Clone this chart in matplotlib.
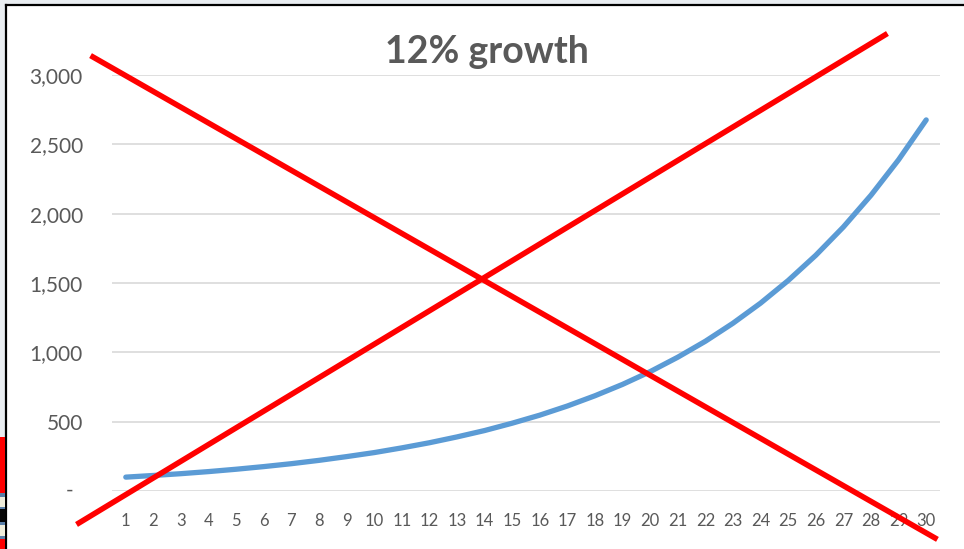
import matplotlib.pyplot as plt
from matplotlib.patches import Rectangle
from matplotlib.lines import Line2D
import matplotlib.transforms as mtransforms

# === data ===
years = list(range(1, 31))
value = [100, 112, 125, 140, 157, 176, 197, 221, 248, 277,
         311, 348, 390, 436, 489, 547, 613, 687, 769, 861,
         965, 1080, 1210, 1355, 1518, 1700, 1904, 2133, 2389, 2676]
y_ticks = [0, 500, 1000, 1500, 2000, 2500, 3000]
y_labels = ["", "500", "1,000", "1,500", "2,000", "2,500", "3,000"]

# red "X" drawn over the chart (data coordinates)
cross1_x = [-0.19, 30.32]
cross1_y = [3130, -339]
cross2_x = [-0.70, 28.51]
cross2_y = [-231, 3289]

plt.rcParams['font.family'] = ['Lato', 'DejaVu Sans']
txt = '#595959'

fig = plt.figure(figsize=(9.64, 5.49), dpi=100)
fig.patch.set_facecolor('#E9EDF1')
W, H = 964, 549

# white chart area with black frame on left/top (screenshot edge)
fig.patches.append(Rectangle((7 / W, 0), 1, (H - 6) / H, transform=fig.transFigure,
                             facecolor='white', edgecolor='none', zorder=-5))
fig.add_artist(Line2D([6 / W, 6 / W], [0, (H - 5) / H], transform=fig.transFigure,
                      color='black', lw=1.6, zorder=-4))
fig.add_artist(Line2D([6 / W, 1], [(H - 5) / H, (H - 5) / H], transform=fig.transFigure,
                      color='black', lw=1.6, zorder=-4))
# small coloured bits on the left strip
for y0, y1, c in [(437, 493, '#FF0000'), (493, 497, '#5A7FA8'), (497, 507, '#F0EEDC'),
                  (507, 509, '#5A7FA8'), (509, 522, '#050505'), (522, 525, '#5A7FA8'),
                  (525, 536, '#F0EEDC'), (536, 539, '#5A7FA8'), (539, 549, '#FF0000')]:
    fig.patches.append(Rectangle((0, (H - y1) / H), 5 / W, (y1 - y0) / H,
                                 transform=fig.transFigure, facecolor=c,
                                 edgecolor='none', zorder=-4))

ax = fig.add_axes([112 / W, (H - 491) / H, (940 - 112) / W, (491 - 75) / H])
ax.patch.set_alpha(0)
ax.set_xlim(0.5, 30.5)
ax.set_ylim(0, 3000)

ax.set_yticks(y_ticks)
ax.set_yticklabels(y_labels)
ax.set_xticks(years)
ax.tick_params(axis='y', length=0, pad=21, labelsize=15, labelcolor=txt)
ax.tick_params(axis='x', length=0, pad=16, labelsize=12, labelcolor=txt)
for s in ax.spines.values():
    s.set_visible(False)
ax.grid(axis='y', color='#D9D9D9', lw=1.2)
ax.set_axisbelow(True)

# accounting style "-" for zero
trans = mtransforms.blended_transform_factory(ax.transAxes, ax.transData)
ax.text(-42 / 828, 0, "-", transform=trans, ha='center', va='center',
        fontsize=15, color=txt)

ax.plot(years, value, color='#5B9BD5', lw=3.8, solid_capstyle='round', zorder=3)

ax.plot(cross1_x, cross1_y, color='#FF0000', lw=4, clip_on=False, zorder=4)
ax.plot(cross2_x, cross2_y, color='#FF0000', lw=4, clip_on=False, zorder=4)

fig.text(487 / W, (H - 52) / H, "12% growth", ha='center', va='center',
         fontsize=27, fontweight='bold', color=txt)

fig.savefig("out.png", dpi=100)
